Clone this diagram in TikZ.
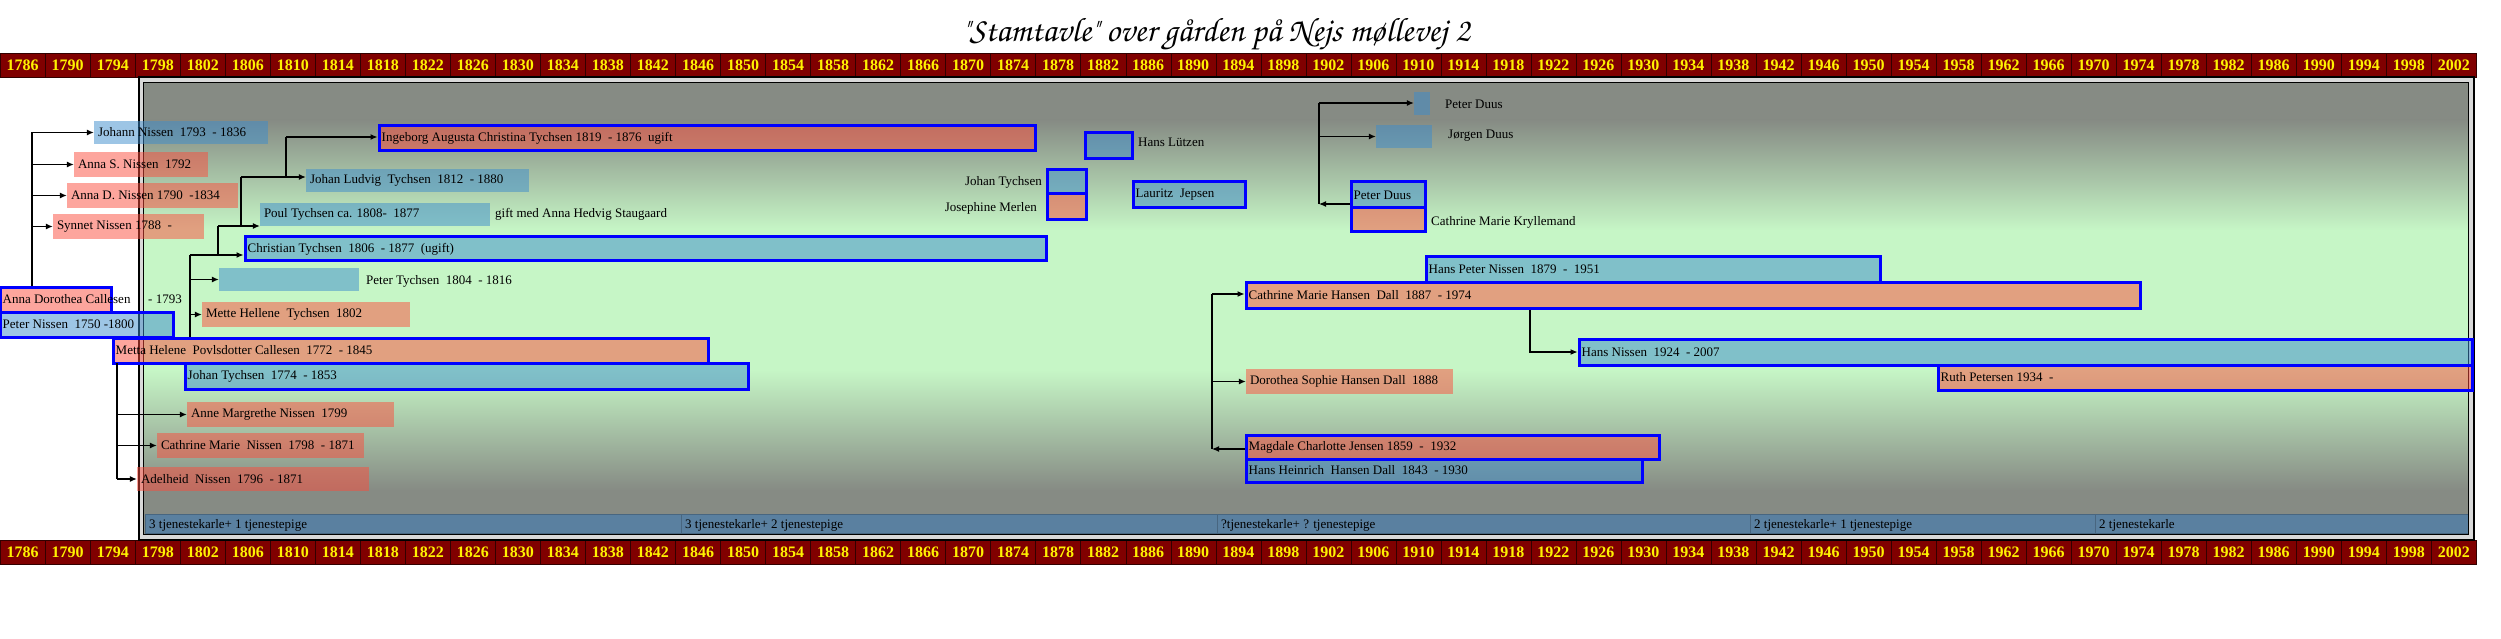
\documentclass[tikz,border=0pt]{standalone}
\usepackage[T1]{fontenc}
\usepackage{fontspec}
\setmainfont{Liberation Serif}
\usetikzlibrary{arrows.meta,fit}

\definecolor{yearred}{HTML}{800000}
\definecolor{bggrey}{HTML}{868B84}
\definecolor{bggreen}{HTML}{C6F6C6}
\definecolor{manblue}{HTML}{3C8CCC}
\definecolor{womanred}{HTML}{FC4C3C}
\definecolor{tjblue}{HTML}{5A80A0}

\tikzset{
  man/.style={fill=manblue,fill opacity=.5},
  woman/.style={fill=womanred,fill opacity=.5},
  wed/.style={draw=blue,line width=3pt},
  txt/.style={font=\fontsize{13}{14}\selectfont,inner sep=0pt,anchor=west},
  yr/.style={draw=black!60!yearred,fill=yearred,text=yellow,
    font=\fontsize{16}{16}\selectfont\bfseries,minimum width=45.02pt,
    minimum height=24pt,inner sep=0pt,anchor=north west},
  link/.style={line width=1.1pt},
  arr/.style={link,-{Latex[length=7pt,width=6pt]}}
}
% box from corner to corner, text inside
\newcommand\pers[5]{%
  \node[#1,fit={#3 #4},inner sep=0pt] (#2) {};
  \node[txt] (#2-t) at ([xshift=4pt]#2.west) {#5};}

\begin{document}
\begin{tikzpicture}[x=1pt,y=-1pt]
  \useasboundingbox (0,0) rectangle (2501,639);
  \node[font={\fontsize{34}{36}\fontencoding{T1}\fontfamily{pzc}\fontseries{mb}\fontshape{it}\selectfont}]
    (title) at (1216,35) {"Stamtavle" over g\aa rden p\aa{} Nejs m\o llevej 2};
  \foreach \i in {0,...,54}{
    \pgfmathtruncatemacro\yr{1786+4*\i}
    \node[yr] (top\i) at (45.02*\i,53) {\yr};
    \node[yr] (bot\i) at (45.02*\i,540) {\yr};
  }
  % frame
  \draw[fill=gray!30,line width=2pt] (138.5,77.5) rectangle (2473.5,539.5);
  \fill[bggrey] (144,83) rectangle (2468,120);
  \shade[top color=bggrey,bottom color=bggreen] (144,120) rectangle (2468,230);
  \fill[bggreen] (144,230) rectangle (2468,370);
  \shade[top color=bggreen,bottom color=bggrey] (144,370) rectangle (2468,490);
  \fill[bggrey] (144,490) rectangle (2468,535);
  \foreach \a/\b/\t [count=\k] in {145/681/3 tjenestekarle+ 1 tjenestepige,
      681/1217/3 tjenestekarle+ 2 tjenestepige,1217/1750/?tjenestekarle+ ? tjenestepige,
      1750/2095/2 tjenestekarle+ 1 tjenestepige,2095/2468/2 tjenestekarle}{
    \draw[fill=tjblue,draw=tjblue!80!black] (\a,514) rectangle (\b,533);
    \node[txt] (tj\k) at (\a+4,525) {\t};
  }
  \draw[line width=1.5pt] (143.5,82.5) rectangle (2468.5,534.5);

  \pers{man}{jn}{(94,121)}{(268,144)}{Johann Nissen~ 1793~ - 1836}
  \pers{woman}{asn}{(74,152)}{(208,177)}{Anna S. Nissen~ 1792}
  \pers{woman}{adn}{(67,183)}{(238,208)}{Anna D. Nissen 1790~ -1834}
  \pers{woman}{sn}{(53,214)}{(204,239)}{Synnet Nissen 1788~ -}
  \pers{woman,wed}{adc}{(0,287)}{(111,312)}{Anna Dorothea Callesen}
  \node[txt] (adc-y) at (148,299) {- 1793};
  \pers{man,wed}{pn}{(0,312)}{(173,337)}{Peter Nissen~ 1750 -1800}
  \pers{woman,wed}{mhc}{(113,338)}{(708,363)}{Metta Helene~ Povlsdotter Callesen~ 1772~ - 1845}
  \pers{man,wed}{jt}{(185,363)}{(748,389)}{Johan Tychsen~ 1774~ - 1853}
  \pers{woman}{amn}{(187,402)}{(394,427)}{Anne Margrethe Nissen~ 1799}
  \pers{woman}{cmn}{(157,433)}{(364,458)}{Cathrine Marie~ Nissen~ 1798~ - 1871}
  \pers{woman}{adh}{(137,467)}{(369,491)}{Adelheid~ Nissen~ 1796~ - 1871}
  \pers{woman}{mht}{(202,302)}{(410,327)}{Mette Hellene~ Tychsen~ 1802}
  \node[man,fit={(219,268) (359,291)},inner sep=0pt] (ptb) {};
  \node[txt] (ptb-t) at (366,281) {Peter Tychsen~ 1804~ - 1816};
  \pers{man,wed}{chr}{(245,237)}{(1046,261)}{Christian Tychsen~ 1806~ - 1877~ (ugift)}
  \pers{man}{pty}{(260,203)}{(490,226)}{Poul Tychsen ca. 1808-~ 1877}
  \node[txt] (pty-g) at (495,214) {gift med Anna Hedvig Staugaard};
  \pers{man}{jlt}{(306,169)}{(529,192)}{Johan Ludvig~ Tychsen~ 1812~ - 1880}
  \pers{woman,wed}{iat}{(379,126)}{(1035,151)}{Ingeborg Augusta Christina Tychsen 1819~ - 1876~ ugift}

  \node[man,wed,fit={(1085,133) (1132,159)},inner sep=0pt] (hl) {};
  \node[txt] (hl-t) at (1138,142) {Hans Lützen};
  \node[man,wed,fit={(1047,170) (1086,194)},inner sep=0pt] (jt2) {};
  \node[txt,anchor=east] (jt2-t) at (1042,182) {Johan Tychsen};
  \node[woman,wed,fit={(1047,194) (1086,220)},inner sep=0pt] (jm) {};
  \node[txt,anchor=east] (jm-t) at (1037,208) {Josephine Merlen};
  \pers{man,wed}{lj}{(1133,182)}{(1245,208)}{Lauritz~ Jepsen}

  \node[man,fit={(1414,92) (1430,115)},inner sep=0pt] (pd1) {};
  \node[txt] (pd1-t) at (1445,104) {Peter Duus};
  \node[man,fit={(1376,125) (1432,148)},inner sep=0pt] (jd) {};
  \node[txt] (jd-t) at (1448,136) {Jørgen Duus};
  \pers{man,wed}{pd2}{(1351,182)}{(1425,208)}{Peter Duus}
  \node[woman,wed,fit={(1351,208) (1425,232)},inner sep=0pt] (cmk) {};
  \node[txt] (cmk-t) at (1431,222) {Cathrine Marie Kryllemand};

  \pers{man,wed}{hpn}{(1426,257)}{(1880,282)}{Hans Peter Nissen~ 1879~ -~ 1951}
  \pers{woman,wed}{cmd}{(1246,282)}{(2140,308)}{Cathrine Marie Hansen~ Dall~ 1887~ - 1974}
  \pers{man,wed}{hn}{(1579,339)}{(2472,365)}{Hans Nissen~ 1924~ - 2007}
  \pers{woman,wed}{rp}{(1938,365)}{(2472,390)}{Ruth Petersen 1934~ -}
  \pers{woman}{dsd}{(1246,369)}{(1453,394)}{Dorothea Sophie Hansen Dall~ 1888}
  \pers{woman,wed}{mcj}{(1246,435)}{(1659,459)}{Magdale Charlotte Jensen 1859~ -~ 1932}
  \pers{man,wed}{hhd}{(1246,459)}{(1642,482)}{Hans Heinrich~ Hansen Dall~ 1843~ - 1930}

  \coordinate (a1) at (32,132);
  \draw[link] (adc.north -| a1) -- (a1);
  \foreach \n in {jn,asn,adn,sn} \draw[arr] (a1 |- \n.west) -- (\n.west);
  \coordinate (a2) at (117,363);
  \draw[link] (a2) -- (a2 |- adh.west);
  \foreach \n in {amn,cmn,adh} \draw[arr] (a2 |- \n.west) -- (\n.west);

  \coordinate (k1) at (190,255);
  \coordinate (k2) at (218,226);
  \coordinate (k3) at (241,177);
  \coordinate (k4) at (286,137);
  \draw[link] (mhc.north -| k1) -- (k1);
  \draw[link] (k1 -| k2) -- (k2);
  \draw[link] (k2 -| k3) -- (k3);
  \draw[link] (k3 -| k4) -- (k4);
  \draw[arr] (k1) -- (k1 -| chr.west);
  \draw[arr] (k1 |- ptb.west) -- (ptb.west);
  \draw[arr] (k1 |- mht.west) -- (mht.west);
  \draw[arr] (k2) -- (k2 -| pty.west);
  \draw[arr] (k3) -- (k3 -| jlt.west);
  \draw[arr] (k4) -- (k4 -| iat.west);

  \coordinate (d1) at (1319,103);
  \coordinate (d2) at (1319,204);
  \draw[link] (d1) -- (d2);
  \draw[arr] (d1) -- (d1 -| pd1.west);
  \draw[arr] (d1 |- jd.west) -- (jd.west);
  \draw[arr] (d2 -| pd2.west) -- (d2);

  \coordinate (h1) at (1212,294);
  \coordinate (h2) at (1212,449);
  \coordinate (h3) at (1530,352);
  \draw[link] (h1) -- (h2);
  \draw[arr] (h1) -- (h1 -| cmd.west);
  \draw[arr] (h1 |- dsd.west) -- (dsd.west);
  \draw[arr] (h2 -| mcj.west) -- (h2);
  \draw[arr] (cmd.south -| h3) -- (h3) -- (hn.west);
\end{tikzpicture}
\end{document}
